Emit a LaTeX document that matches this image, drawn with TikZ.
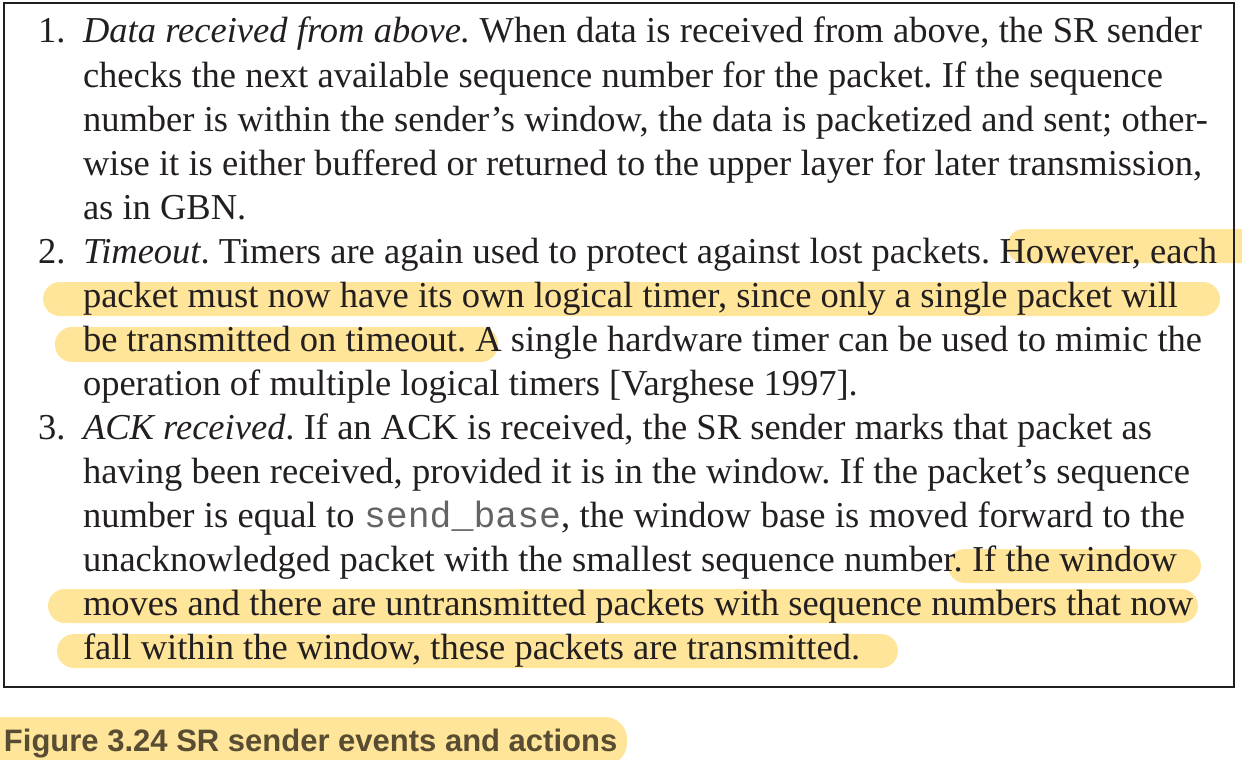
\documentclass[tikz,border=0pt]{standalone}
\usepackage{fontspec}
\setmainfont{Liberation Serif}
\newfontfamily\capfont{Liberation Sans}
\newfontfamily\codefont{Liberation Mono}
\definecolor{hl}{RGB}{255,229,153}
\definecolor{ink}{RGB}{35,31,32}
\definecolor{capink}{RGB}{88,76,50}
\definecolor{codeink}{RGB}{100,100,100}
\tikzset{
  txt/.style={anchor=base west, inner sep=0pt, outer sep=0pt, text=ink, font=\fontsize{36.5}{44}\selectfont\frenchspacing},
  hlt/.style={fill=hl, rounded corners=17pt},
  captxt/.style={anchor=base west, inner sep=0pt, outer sep=0pt, text=capink, font=\capfont\bfseries\fontsize{31}{36}\selectfont},
  frame/.style={draw=ink, line width=2.8pt},
}
\newcommand{\jl}[2]{\makebox[#1pt][s]{#2}}
\begin{document}
\begin{tikzpicture}[x=1pt,y=-1pt]
\useasboundingbox (0,0) rectangle (1242,760);
% highlights
\begin{scope}
  \clip (0,0) rectangle (1242,760);
  \fill[hlt] (1007,229) rectangle (1290,263);
  \fill[hlt] (43,282) rectangle (1220,316);
  \fill[hlt] (55,327) rectangle (498,362);
  \fill[hlt] (948,549) rectangle (1201,583);
  \fill[hlt] (48,589) rectangle (1198,623);
  \fill[hlt] (57,634) rectangle (898,668);
  \fill[fill=hl, rounded corners=22pt] (-30,717) rectangle (627,765);
\end{scope}
% frame
\draw[frame] (4,3) rectangle (1234,687);
% item labels
\node[txt] (n1) at (38,43) {1.};
\node[txt] (n2) at (38,263) {2.};
\node[txt] (n3) at (38,439) {3.};
% lines
\node[txt] (l1) at (83,43) {\jl{1119}{\textit{Data received from above.} When data is received from above, the SR sender}};
\node[txt] (l2) at (83,87) {\jl{1080}{checks the next available sequence number for the packet. If the sequence}};
\node[txt] (l3) at (83,131) {\jl{1125}{number is within the sender’s window, the data is packetized and sent; other-}};
\node[txt] (l4) at (83,175) {\jl{1119}{wise it is either buffered or returned to the upper layer for later transmission,}};
\node[txt] (l5) at (83,219) {as in GBN.};
\node[txt] (l6) at (83,263) {\jl{1134}{\textit{Timeout}. Timers are again used to protect against lost packets. However, each}};
\node[txt] (l7) at (83,307) {\jl{1095}{packet must now have its own logical timer, since only a single packet will}};
\node[txt] (l8) at (83,351) {\jl{1119}{be transmitted on timeout. A single hardware timer can be used to mimic the}};
\node[txt] (l9) at (83,395) {operation of multiple logical timers [Varghese 1997].};
\node[txt] (l10) at (83,439) {\jl{1069}{\textit{ACK received}. If an ACK is received, the SR sender marks that packet as}};
\node[txt] (l11) at (83,483) {\jl{1107}{having been received, provided it is in the window. If the packet’s sequence}};
\node[txt] (l12) at (83,527) {\jl{1102}{number is equal to {\codefont\color{codeink}send\_base}, the window base is moved forward to the}};
\node[txt] (l13) at (83,571) {\jl{1094}{unacknowledged packet with the smallest sequence number. If the window}};
\node[txt] (l14) at (83,615) {\jl{1110}{moves and there are untransmitted packets with sequence numbers that now}};
\node[txt] (l15) at (83,659) {fall within the window, these packets are transmitted.};
% caption
\node[captxt] (cap) at (4,751) {Figure 3.24 SR sender events and actions};
\end{tikzpicture}
\end{document}
